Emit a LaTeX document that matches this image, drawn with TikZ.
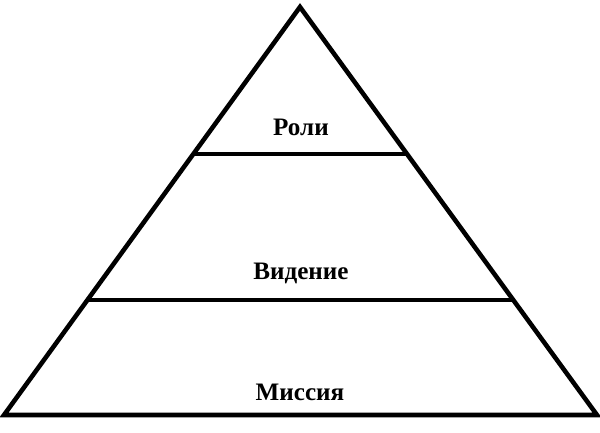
\documentclass[tikz,border=0pt]{standalone}
\usepackage{fontspec}
\setmainfont{Liberation Serif}
\usepackage{tikz}
\usetikzlibrary{calc, positioning}
\tikzstyle{edge} = [line width=2.6pt, line join=miter, black]
\tikzstyle{level} = [font=\fontsize{14.3}{16}\selectfont\bfseries, text=black, inner sep=0pt]

\begin{document}
\begin{tikzpicture}[x=0.02cm, y=-0.02cm]
	\useasboundingbox (0,0) rectangle (600,433);
	\coordinate (Top) at (300,7);
	\coordinate (BaseLeft) at (4,415);
	\coordinate (BaseRight) at (597,415);
	\path (Top) -- (BaseLeft) coordinate[pos=0.3603] (UpperLeft) coordinate[pos=0.7181] (LowerLeft);
	\path (Top) -- (BaseRight) coordinate[pos=0.3603] (UpperRight) coordinate[pos=0.7181] (LowerRight);
	\draw [edge] (Top) -- (BaseLeft) -- (BaseRight) -- cycle;
	\draw [edge] (UpperLeft) -- (UpperRight);
	\draw [edge] (LowerLeft) -- (LowerRight);
	\node (Roles) [level] at (301,127) {Роли};
	\node (Vision) [level] at (301,273) {Видение};
	\node (Mission) [level] at (300,392) {Миссия};
\end{tikzpicture}
\end{document}
